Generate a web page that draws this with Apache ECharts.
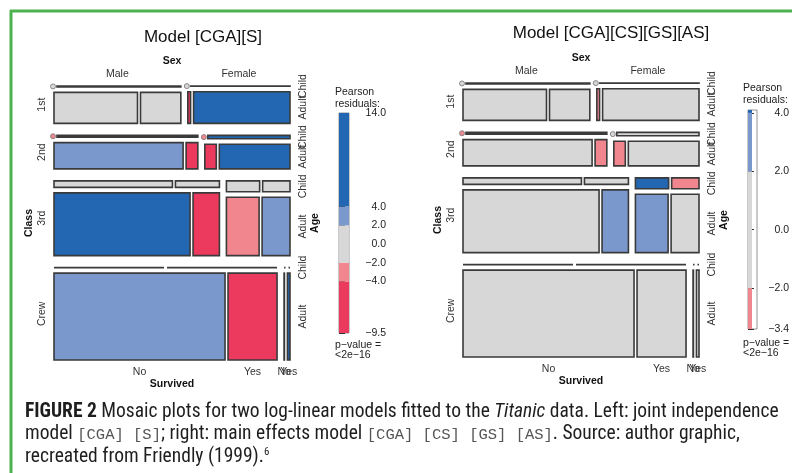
<!DOCTYPE html>
<html>
<head>
<meta charset="utf-8">
<script src="https://cdn.jsdelivr.net/npm/echarts@6/dist/echarts.min.js"></script>
<style>
  html, body { margin: 0; padding: 0; background: #fff; }
  #container { width: 792px; height: 473px; }
</style>
</head>
<body>
<div id="container"></div>
<script>
// Titanic counts, cell order per class:
// Male Child No/Yes, Male Adult No/Yes, Female Child No/Yes, Female Adult No/Yes
var classes = ['1st', '2nd', '3rd', 'Crew'];
var sexes = ['Male', 'Female'];
var ages = ['Child', 'Adult'];
var survived = ['No', 'Yes'];

var counts1st  = [0, 5, 118, 57, 0, 1, 4, 140];
var counts2nd  = [0, 11, 154, 14, 0, 13, 13, 80];
var counts3rd  = [35, 13, 387, 75, 17, 14, 89, 76];
var countsCrew = [0, 0, 670, 192, 0, 0, 3, 20];

// Pearson residuals, model [CGA][S] (left)
var residLeft1st  = [-1.84, 2.66, -0.04, 0.06, -0.82, 1.19, -9.47, 13.71];
var residLeft2nd  = [-2.73, 3.95, 3.78, -5.47, -2.97, 4.29, -6.30, 9.12];
var residLeft3rd  = [0.44, -0.64, 4.20, -6.08, -0.87, 1.26, -2.15, 3.11];
var residLeftCrew = [0, 0, 3.58, -5.18, 0, 0, -3.18, 4.61];

// Pearson residuals, model [CGA][CS][GS][AS] (right)
var residRight1st  = [-1.0, 1.2, 0.5, -0.8, -0.5, 0.6, -2.6, 0.4];
var residRight2nd  = [-2.4, 3.0, 0.9, -2.5, -1.2, 1.0, -2.3, 0.8];
var residRight3rd  = [0.6, -1.1, -1.2, 2.6, 4.1, -3.4, 2.4, -1.5];
var residRightCrew = [0, 0, 0.7, -1.1, 0, 0, -1.5, 1.8];

// legend scales
var legendBreaksLeft = [-9.5, -4, -2, 2, 4, 14];
var legendTicksLeft = [14, 4, 2, 0, -2, -4, -9.5];
var legendBreaksRight = [-3.4, -2, 2, 4, 4.1];
var legendTicksRight = [4, 2, 0, -2, -3.4];

var counts = [counts1st, counts2nd, counts3rd, countsCrew];
var residLeft = [residLeft1st, residLeft2nd, residLeft3rd, residLeftCrew];
var residRight = [residRight1st, residRight2nd, residRight3rd, residRightCrew];

var FONT = "'Liberation Sans', Arial, sans-serif";
var CAPFONT = "'Roboto Condensed', 'Liberation Sans Narrow', sans-serif";
var CAPSIZE = 19.5;

function shade(r) {
    if (r > 4) return '#2366b1';
    if (r > 2) return '#7b98cd';
    if (r >= -2) return '#d6d7d6';
    if (r >= -4) return '#f2868f';
    return '#ec3a5e';
}

function sum(a) {
    var s = 0;
    for (var i = 0; i < a.length; i++) s += a[i];
    return s;
}

// mosaic layout in pixel-like data units (W x H)
function mosaic(rows, resid, W, H) {
    var classGap = 12, ageGap = 5.5, sexGap = 7, survGap = 3;
    var total = 0;
    rows.forEach(function (r) { total += sum(r); });
    var avail = H - 3 * classGap - 4 * ageGap;
    var cells = [];
    var info = { classMid: [], sexMid: [], survMid: [], ageMid: [] };
    var y = 0;
    rows.forEach(function (row, c) {
        var nc = sum(row);
        var hc = avail * nc / total;
        var x = 0;
        for (var s = 0; s < 2; s++) {
            var ns = sum(row.slice(s * 4, s * 4 + 4));
            var ws = (W - sexGap) * ns / nc;
            var yy = y;
            for (var a = 0; a < 2; a++) {
                var k = s * 4 + a * 2;
                var na = row[k] + row[k + 1];
                var ha = ns > 0 ? hc * na / ns : hc / 2;
                var xx = x;
                var wa = ws - survGap;
                for (var v = 0; v < 2; v++) {
                    var n = row[k + v];
                    var wv = na > 0 ? wa * n / na : wa / 2;
                    cells.push([xx, xx + wv, yy, yy + ha, resid[c][k + v], (n === 0 && na > 0) ? 1 : 0]);
                    if (c === 3 && a === 1) info.survMid.push(xx + wv / 2);
                    xx += wv + survGap;
                }
                if (s === 1) info.ageMid.push(yy + ha / 2);
                yy += ha + ageGap;
            }
            if (c === 0) info.sexMid.push(x + ws / 2);
            x += ws + sexGap;
        }
        info.classMid.push(y + (hc + ageGap) / 2);
        y += hc + ageGap + classGap;
    });
    return { cells: cells, info: info };
}

function renderCell(params, api) {
    var p0 = api.coord([api.value(0), api.value(2)]);
    var p1 = api.coord([api.value(1), api.value(3)]);
    var fill = shade(api.value(4));
    var children = [{
        type: 'rect',
        shape: { x: p0[0], y: p0[1], width: p1[0] - p0[0], height: p1[1] - p0[1] },
        style: { fill: fill, stroke: '#3a3a3a', lineWidth: 1.6 }
    }];
    if (api.value(5)) {
        children.push({
            type: 'circle',
            shape: { cx: p0[0] - 1, cy: (p0[1] + p1[1]) / 2, r: 2.5 },
            style: { fill: fill, stroke: '#888', lineWidth: 1 }
        });
    }
    return { type: 'group', children: children };
}

function renderBand(params, api) {
    var p0 = api.coord([0, api.value(1)]);
    var p1 = api.coord([1, api.value(0)]);
    return {
        type: 'rect',
        shape: { x: p0[0], y: p0[1], width: p1[0] - p0[0], height: p1[1] - p0[1] },
        style: { fill: shade(api.value(2)) }
    };
}

function bands(breaks) {
    var d = [];
    for (var i = 0; i < breaks.length - 1; i++) {
        d.push([breaks[i], breaks[i + 1], (breaks[i] + breaks[i + 1]) / 2]);
    }
    return d;
}

function fmt(v) {
    return v.toFixed(1).replace('-', '\u2212');
}

var panels = [
    { left: 54, top: 86, width: 236, height: 274, title: 'Model [CGA][S]', titleX: 203, titleY: 37, resid: residLeft,
      legend: { left: 339, top: 113, width: 10, height: 220, min: -9.5, max: 14, breaks: legendBreaksLeft, ticks: legendTicksLeft, textX: 335, textY: 98, pY: 350 } },
    { left: 463, top: 83, width: 236, height: 274, title: 'Model [CGA][CS][GS][AS]', titleX: 611, titleY: 33, resid: residRight,
      legend: { left: 748, top: 110, width: 9, height: 219, min: -3.4, max: 4.1, breaks: legendBreaksRight, ticks: legendTicksRight, textX: 743, textY: 94, pY: 348 } }
];

var grids = [], xAxes = [], yAxes = [], series = [], graphics = [];

function txt(x, y, text, opts) {
    opts = opts || {};
    graphics.push({
        type: 'text', x: x, y: y, rotation: opts.rot ? Math.PI / 2 : 0,
        style: {
            text: text, fill: opts.fill || '#333', font: (opts.bold ? 'bold ' : '') + (opts.size || 10.5) + 'px ' + FONT,
            align: opts.align || 'center', verticalAlign: 'middle', lineHeight: opts.lh || 12
        }
    });
}

panels.forEach(function (p, i) {
    var m = mosaic(counts, p.resid, p.width, p.height);
    grids.push({ left: p.left, top: p.top, width: p.width, height: p.height });
    xAxes.push({ gridIndex: i * 2, type: 'value', min: 0, max: p.width, show: false });
    yAxes.push({ gridIndex: i * 2, type: 'value', min: 0, max: p.height, inverse: true, show: false });
    series.push({
        type: 'custom', xAxisIndex: i * 2, yAxisIndex: i * 2, clip: false,
        renderItem: renderCell, data: m.cells
    });

    var L = p.legend;
    grids.push({ left: L.left, top: L.top, width: L.width, height: L.height });
    xAxes.push({ gridIndex: i * 2 + 1, type: 'value', min: 0, max: 1, show: false });
    yAxes.push({
        gridIndex: i * 2 + 1, type: 'value', min: L.min, max: L.max, position: 'right',
        axisLine: { show: false }, splitLine: { show: false },
        axisTick: { show: true, length: 6, lineStyle: { color: '#333', width: 1 }, customValues: L.ticks },
        axisLabel: { customValues: L.ticks, formatter: fmt, align: 'right', margin: 37,
            color: '#222', fontSize: 10.5, fontFamily: FONT }
    });
    series.push({
        type: 'custom', xAxisIndex: i * 2 + 1, yAxisIndex: i * 2 + 1, clip: false,
        renderItem: renderBand, data: bands(L.breaks)
    });
    graphics.push({
        type: 'rect', shape: { x: L.left, y: L.top, width: L.width, height: L.height },
        style: { fill: 'none', stroke: '#777', lineWidth: 0.8 }
    });
    txt(L.textX, L.textY, 'Pearson\nresiduals:', { align: 'left', fill: '#222' });
    txt(L.textX, L.pY, 'p\u2212value =\n<2e\u221216', { align: 'left', fill: '#222', lh: 10 });

    // titles and labels
    txt(p.titleX, p.titleY, p.title, { size: 17, fill: '#111' });
    var cx = p.left + p.width / 2, cy = p.top + p.height / 2;
    var right = p.left + p.width, bottom = p.top + p.height;
    txt(cx, p.top - 25, 'Sex', { bold: true, fill: '#111' });
    m.info.sexMid.forEach(function (x, k) { txt(p.left + x, p.top - 12, sexes[k]); });
    txt(cx, bottom + 24, 'Survived', { bold: true, fill: '#111' });
    m.info.survMid.forEach(function (x, k) { txt(p.left + x, bottom + 12, survived[k % 2]); });
    txt(p.left - 25, cy, 'Class', { bold: true, rot: true, fill: '#111' });
    m.info.classMid.forEach(function (y, k) { txt(p.left - 12, p.top + y, classes[k], { rot: true }); });
    txt(right + 25, cy, 'Age', { bold: true, rot: true, fill: '#111' });
    m.info.ageMid.forEach(function (y, k) { txt(right + 13, p.top + y, ages[k % 2], { rot: true }); });
});

// frame
graphics.push({ type: 'line', shape: { x1: 10, y1: 11, x2: 792, y2: 11 }, style: { stroke: '#4cb14f', lineWidth: 3 } });
graphics.push({ type: 'line', shape: { x1: 11, y1: 10, x2: 11, y2: 473 }, style: { stroke: '#4cb14f', lineWidth: 3 } });

// caption
var capRich = {
    b: { fontWeight: 'bold', fontFamily: CAPFONT, fontSize: CAPSIZE, fill: '#1e1e1e', color: '#1e1e1e' },
    i: { fontStyle: 'italic', fontFamily: CAPFONT, fontSize: CAPSIZE, fill: '#1e1e1e', color: '#1e1e1e' },
    m: { fontFamily: "'Liberation Mono', 'DejaVu Sans Mono', monospace", fontSize: 15.5, fill: '#555', color: '#555' },
    sup: { fontFamily: CAPFONT, fontSize: 11, fill: '#1e1e1e', color: '#1e1e1e', verticalAlign: 'top', padding: [0, 0, 8, 0] }
};
var captionLines = [
    '{b|FIGURE 2} Mosaic plots for two log-linear models fitted to the {i|Titanic} data. Left: joint independence',
    'model {m|[CGA] [S]}; right: main effects model {m|[CGA] [CS] [GS] [AS]}. Source: author graphic,',
    'recreated from Friendly (1999).{sup|6}'
];
captionLines.forEach(function (line, k) {
    graphics.push({
        type: 'text', x: 25, y: 412 + k * 22.5,
        style: { text: line, rich: capRich, fontFamily: CAPFONT, fontSize: CAPSIZE, fill: '#1e1e1e',
            align: 'left', verticalAlign: 'middle' }
    });
});

var dom = document.getElementById('container');
var myChart = echarts.init(dom, null, { renderer: 'canvas' });
var option = {
    backgroundColor: '#fff',
    animation: false,
    grid: grids,
    xAxis: xAxes,
    yAxis: yAxes,
    series: series,
    graphic: graphics
};
myChart.setOption(option);
window.addEventListener('resize', myChart.resize);
</script>
</body>
</html>
